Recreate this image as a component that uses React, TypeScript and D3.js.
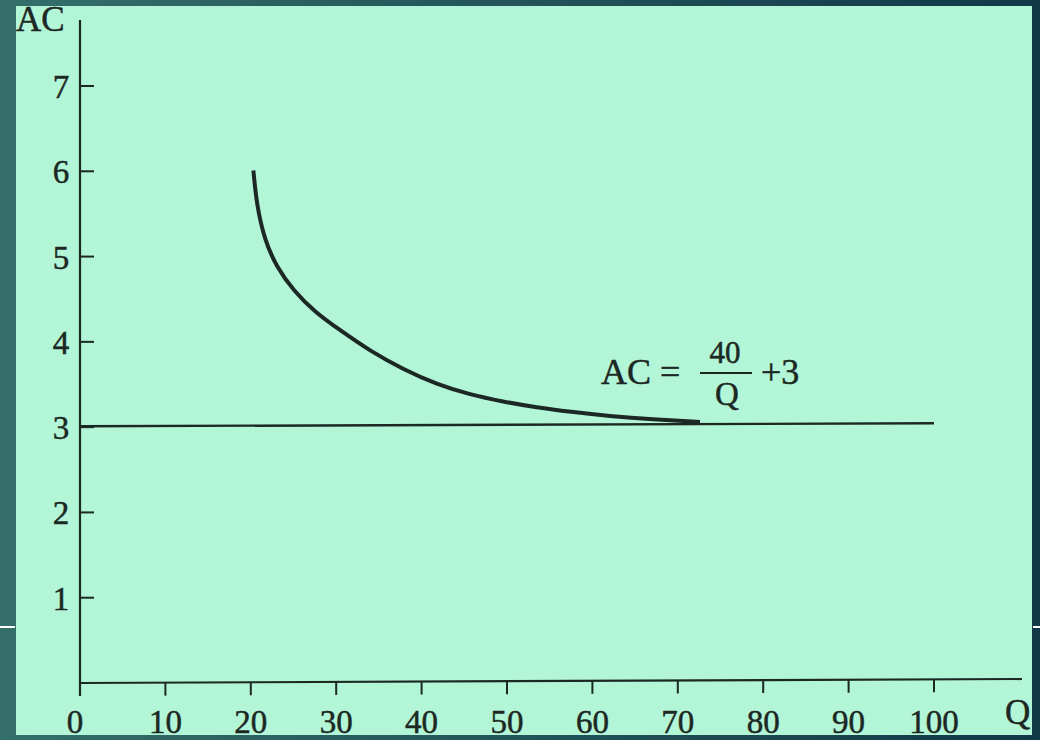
import React from "react";
import * as d3 from "d3";

// Average cost curve AC = 40/Q + 3, approaching the AC = 3 floor
const curveQ = [20.3, 20.7, 21.6, 23.0, 25.0, 27.5, 30.4, 34.0, 37.8, 41.8, 45.7, 49.5, 53.5, 57.4, 62.0, 67.0, 72.6];
const curveAC = [6.01, 5.6, 5.2, 4.88, 4.6, 4.35, 4.14, 3.89, 3.68, 3.5, 3.38, 3.3, 3.23, 3.18, 3.13, 3.09, 3.06];

// Horizontal asymptote drawn across the plot
const floorQ = [0, 100];
const floorAC = [3.01, 3.045];

const xTicks = [0, 10, 20, 30, 40, 50, 60, 70, 80, 90, 100];
const yTicks = [1, 2, 3, 4, 5, 6, 7];

const W = 1040;
const H = 740;
const INK = "#1c2823";
const FONT = "'Liberation Serif', 'DejaVu Serif', serif";

export default function App() {
  const x = d3.scaleLinear().domain([0, 100]).range([80, 934]);
  const y = d3.scaleLinear().domain([0, 7]).range([683, 86]);

  const curvePts: [number, number][] = curveQ.map((q, i) => [q, curveAC[i]]);
  const floorPts: [number, number][] = floorQ.map((q, i) => [q, floorAC[i]]);

  const line = d3
    .line<[number, number]>()
    .x((d) => x(d[0]))
    .y((d) => y(d[1]))
    .curve(d3.curveBasis);

  const straight = d3
    .line<[number, number]>()
    .x((d) => x(d[0]))
    .y((d) => y(d[1]));

  const x0 = x(0);
  const y0 = y(0);
  const axisRight = 1022;
  const axisDrop = 4;

  return (
    <svg
      width={W}
      height={H}
      style={{ position: "absolute", left: 0, top: 0, display: "block" }}
    >
      <defs>
        <linearGradient id="frame" x1="0" y1="0" x2="1" y2="0">
          <stop offset="0" stopColor="#346f6a" />
          <stop offset="0.5" stopColor="#22545a" />
          <stop offset="1" stopColor="#113847" />
        </linearGradient>
      </defs>
      <rect x={0} y={0} width={W} height={H} fill="url(#frame)" />
      <line x1={0} x2={15} y1={627} y2={627} stroke="#ffffff" strokeWidth={2} />
      <line x1={1033} x2={1040} y1={627} y2={627} stroke="#ffffff" strokeWidth={2} />
      <rect x={16} y={6} width={1016} height={729} fill="#b3f6d7" />

      <g fill={INK} fontFamily={FONT} stroke={INK} strokeWidth={0.5}>
        {/* axes */}
        <line x1={x0} x2={x0} y1={20} y2={696} stroke={INK} strokeWidth={2.2} />
        <line x1={x0} x2={axisRight} y1={y0} y2={y0 - axisDrop} stroke={INK} strokeWidth={2.2} />

        {yTicks.map((t) => (
          <g key={`y${t}`}>
            <line x1={x0} x2={x0 + 14} y1={y(t)} y2={y(t)} stroke={INK} strokeWidth={2} />
            <text x={61} y={y(t) + 12} fontSize={33} textAnchor="middle">
              {t}
            </text>
          </g>
        ))}

        {xTicks.map((t) => {
          const yy = y0 - (x(t) - x0) * (axisDrop / (axisRight - x0));
          return (
            <g key={`x${t}`}>
              {t > 0 && (
                <line x1={x(t)} x2={x(t)} y1={yy} y2={yy + 13} stroke={INK} strokeWidth={2} />
              )}
              <text x={t === 0 ? x(t) - 5 : x(t)} y={733} fontSize={33} textAnchor="middle">
                {t}
              </text>
            </g>
          );
        })}

        <text x={16} y={31} fontSize={35}>AC</text>
        <text x={1005} y={724} fontSize={35}>Q</text>

        {/* asymptote and AC curve */}
        <path d={straight(floorPts) ?? ""} fill="none" stroke={INK} strokeWidth={2.4} />
        <path d={line(curvePts) ?? ""} fill="none" stroke={INK} strokeWidth={4} />

        {/* formula label */}
        <text x={601} y={384} fontSize={36}>AC =</text>
        <text x={725} y={363} fontSize={31} textAnchor="middle">40</text>
        <line x1={700} x2={752} y1={373} y2={373} stroke={INK} strokeWidth={2} />
        <text x={727} y={405} fontSize={33} textAnchor="middle">Q</text>
        <text x={761} y={384} fontSize={36}>+3</text>
      </g>
    </svg>
  );
}
